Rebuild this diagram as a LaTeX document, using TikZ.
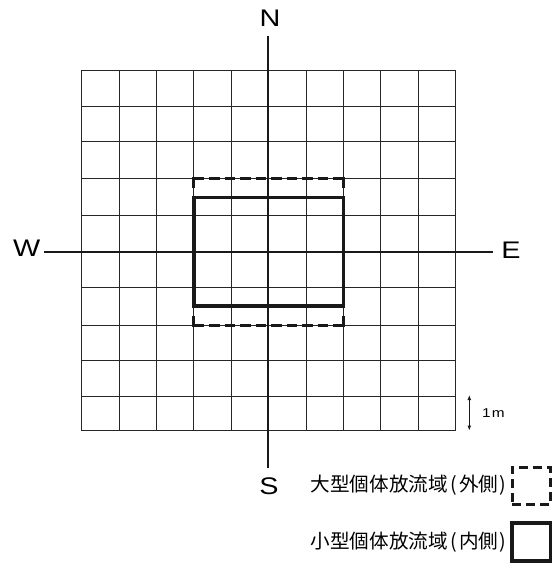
\documentclass[tikz,border=0pt]{standalone}
\usepackage{fontspec}
\setmainfont{Liberation Sans}
\newfontfamily\dirfont[FakeStretch=1.2]{Liberation Sans}
\newfontfamily\cjkfont{Noto Sans CJK JP}
\usetikzlibrary{arrows.meta}
\begin{document}
\begin{tikzpicture}[x=1pt,y=-1pt,
  gridline/.style={line width=1pt, black!85, line cap=rect},
  axis/.style={line width=2.2pt, black!90},
  innerbox/.style={line width=3.6pt, black!90, line cap=rect},
  outerline/.style={line width=3pt, black!90, dash pattern=on 10.5pt off 5pt},
  outerside/.style={line width=3pt, black!90},
  dirlabel/.style={font=\dirfont\fontsize{24}{25}\selectfont, inner sep=0pt, anchor=base},
  legendtext/.style={font=\cjkfont\fontsize{19.6}{21}\selectfont, inner sep=0pt, anchor=west},
  legenddash/.style={draw=black!90, line width=3pt, dash pattern=on 9pt off 5pt, minimum width=38.5pt, minimum height=37pt, inner sep=0pt},
  legendsolid/.style={draw=black!90, line width=3.4pt, minimum width=38.5pt, minimum height=38pt, inner sep=0pt},
  scalearrow/.style={{Latex[length=5pt,width=4pt]}-{Latex[length=5pt,width=4pt]}, line width=1.2pt, black!90}
]
\useasboundingbox (0,0) rectangle (556,563);

% grid
\foreach \x in {81.7,119,156.3,193.7,231,268.3,306,343.3,380.7,418.3,455.7}
  \draw[gridline] (\x,70.7) -- (\x,430.7);
\foreach \y in {70.7,106,141.7,178,215.7,252.3,287.7,325.3,360.7,396,430.7}
  \draw[gridline] (81.7,\y) -- (455.7,\y);

% axes
\coordinate (nEnd) at (268.3,36);
\coordinate (sEnd) at (268.3,467.7);
\coordinate (wEnd) at (44.3,252.3);
\coordinate (eEnd) at (493.3,252.3);
\draw[axis] (nEnd) -- (sEnd);
\draw[axis] (wEnd) -- (eEnd);

% outer (dashed) release area
\coordinate (oTL) at (193.7,178);
\coordinate (oTR) at (343.3,178);
\coordinate (oBL) at (193.7,325.3);
\coordinate (oBR) at (343.3,325.3);
\draw[outerline] (oTL) -- (oTR);
\draw[outerline] (oBL) -- (oBR);
\draw[outerside] ([yshift=1.5pt]oTL) -- ++(0,11);
\draw[outerside] ([yshift=1.5pt]oTR) -- ++(0,11);
\draw[outerside] ([yshift=-1.5pt]oBL) -- ++(0,-11);
\draw[outerside] ([yshift=-1.5pt]oBR) -- ++(0,-11);

% inner (solid) release area
\draw[innerbox] (193.7,197.3) rectangle (343.3,306);

% direction labels
\node[dirlabel] (N) at (270,26) {N};
\node[dirlabel] (S) at (269,494) {S};
\node[dirlabel] (W) at (26.7,256.7) {W};
\node[dirlabel] (E) at (511,258) {E};

% scale
\coordinate (mTop) at (469.3,395);
\coordinate (mBot) at (469.3,430.5);
\draw[scalearrow] (mTop) -- (mBot);
\node[font=\dirfont\fontsize{12.8}{13}\selectfont, anchor=west, inner sep=0pt] (onem) at (482,413.3) {1\kern1.2pt m};

% legend
\node[legendtext] (lg1) at (310.5,485) {大型個体放流域\kern3pt(\kern1.5pt外側\kern1.5pt)};
\node[legendtext] (lg2) at (310.5,541.7) {小型個体放流域\kern3pt(\kern1.5pt内側\kern1.5pt)};
\node[legenddash] (box1) at (531.3,485.5) {};
\node[legendsolid] (box2) at (531.3,542) {};
\end{tikzpicture}
\end{document}
